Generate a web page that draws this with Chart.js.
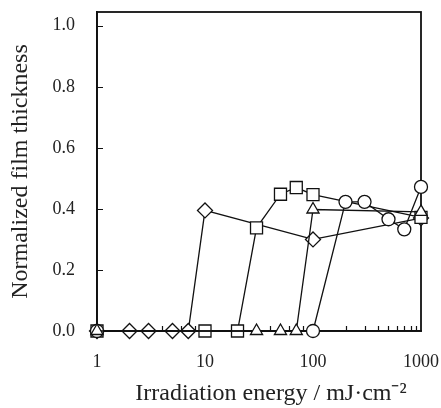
<!DOCTYPE html>
<html>
<head>
<meta charset="utf-8">
<script src="https://cdn.jsdelivr.net/npm/chart.js@4/dist/chart.umd.min.js"></script>
<style>
  html, body { margin: 0; padding: 0; background: #fff; }
  #wrap { width: 441px; height: 408px; }
</style>
</head>
<body>
<div id="wrap"><canvas id="myChart" width="441" height="408"></canvas></div>
<script>
// irradiation energy (mJ/cm2) and normalized thickness for each resist
var diamondX = [1, 2, 3, 5, 7, 10, 100, 1000];
var diamondY = [0, 0, 0, 0, 0, 0.395, 0.30, 0.37];

var squareX = [1, 10, 20, 30, 50, 70, 100, 1000];
var squareY = [0, 0, 0, 0.338, 0.448, 0.470, 0.447, 0.372];

var triangleX = [1, 30, 50, 70, 100, 1000];
var triangleY = [0, 0, 0, 0, 0.398, 0.39];

var circleX = [1, 100, 200, 300, 500, 700, 1000];
var circleY = [0, 0, 0.423, 0.423, 0.366, 0.333, 0.472];

var xTickLabels = [1, 10, 100, 1000];
var yTickLabels = [0, 0.2, 0.4, 0.6, 0.8, 1.0];

function pts(xs, ys) {
    return xs.map(function (x, i) { return { x: x, y: ys[i] }; });
}

function series(label, xs, ys, style, radius) {
    return {
        label: label,
        data: pts(xs, ys),
        showLine: true,
        clip: false,
        borderColor: '#111',
        borderWidth: 1.3,
        pointStyle: style,
        pointRadius: radius,
        pointHoverRadius: radius,
        pointBackgroundColor: '#fff',
        pointBorderColor: '#111',
        pointBorderWidth: 1.3
    };
}

// inward tick marks and the closed frame
var frame = {
    id: 'frame',
    beforeDatasetsDraw: function (chart) {
        var c = chart.ctx, a = chart.chartArea;
        var xs = chart.scales.x, ys = chart.scales.y;
        c.save();
        c.strokeStyle = '#111';
        c.lineWidth = 1.2;
        c.beginPath();
        for (var d = 1; d < 1000; d *= 10) {
            for (var k = 1; k < 10; k++) {
                var px = Math.round(xs.getPixelForValue(d * k)) + 0.5;
                c.moveTo(px, a.bottom);
                c.lineTo(px, a.bottom - 5);
            }
        }
        yTickLabels.forEach(function (v) {
            var py = Math.round(ys.getPixelForValue(v)) + 0.5;
            c.moveTo(a.left, py);
            c.lineTo(a.left + 6, py);
        });
        c.stroke();
        c.lineWidth = 1.8;
        c.strokeRect(a.left, a.top, a.right - a.left, a.bottom - a.top);
        c.restore();
    }
};

var ctx = document.getElementById('myChart').getContext('2d');
var serif = "'Liberation Serif', 'Times New Roman', serif";

var chart = new Chart(ctx, {
    type: 'scatter',
    data: {
        datasets: [
            series('triangle', triangleX, triangleY, 'triangle', 7),
            series('circle', circleX, circleY, 'circle', 6.5),
            series('square', squareX, squareY, 'rect', 8.5),
            series('diamond', diamondX, diamondY, 'rectRot', 7.5)
        ]
    },
    options: {
        responsive: false,
        animation: false,
        layout: { padding: { left: 0, top: 12, right: 20, bottom: 0 } },
        plugins: {
            legend: { display: false },
            tooltip: { enabled: false }
        },
        scales: {
            x: {
                type: 'logarithmic',
                min: 1,
                max: 1000,
                afterBuildTicks: function (s) {
                    s.ticks = xTickLabels.map(function (v) { return { value: v }; });
                },
                afterFit: function (s) {
                    s.height = 77;
                    s.paddingLeft = 0;
                    s.paddingRight = 0;
                },
                grid: { display: false, drawTicks: false },
                border: { display: true, color: '#111', width: 1.8 },
                ticks: {
                    color: '#222',
                    padding: 20,
                    autoSkip: false,
                    maxRotation: 0,
                    font: { family: serif, size: 18 },
                    callback: function (v) { return String(v); }
                },
                title: {
                    display: true,
                    text: '\u2002\u2002Irradiation energy / mJ\u00b7cm\u207b\u00b2',
                    color: '#222',
                    padding: { top: 0, bottom: 0 },
                    font: { family: serif, size: 24 }
                }
            },
            y: {
                min: 0,
                max: 1.045,
                afterBuildTicks: function (s) {
                    s.ticks = yTickLabels.map(function (v) { return { value: v }; });
                },
                afterFit: function (s) {
                    s.width = 97;
                    s.paddingTop = 0;
                    s.paddingBottom = 0;
                },
                grid: { display: false, drawTicks: false },
                border: { display: true, color: '#111', width: 1.8 },
                ticks: {
                    color: '#222',
                    padding: 22,
                    font: { family: serif, size: 18 },
                    callback: function (v) { return v.toFixed(1); }
                },
                title: {
                    display: true,
                    text: 'Normalized film thickness',
                    color: '#222',
                    padding: { top: 6, bottom: 0 },
                    font: { family: serif, size: 24 }
                }
            }
        }
    },
    plugins: [frame]
});
</script>
</body>
</html>
